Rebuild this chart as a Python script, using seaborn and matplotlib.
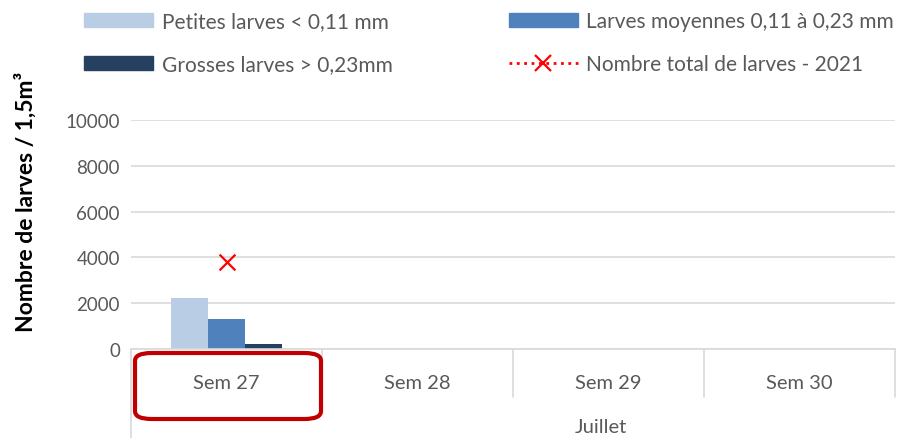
import numpy as np
import pandas as pd
import matplotlib.pyplot as plt
import seaborn as sns
from matplotlib.lines import Line2D
from matplotlib.patches import Patch, FancyBboxPatch

weeks = ['Sem 27', 'Sem 28', 'Sem 29', 'Sem 30']
month = 'Juillet'
petites = [2230, 0, 0, 0]
moyennes = [1320, 0, 0, 0]
grosses = [200, 0, 0, 0]
total = [3820, np.nan, np.nan, np.nan]
series_names = ['Petites larves < 0,11 mm', 'Larves moyennes 0,11 à 0,23 mm',
                'Grosses larves > 0,23mm']
total_name = 'Nombre total de larves - 2021'
colors = ['#B9CDE5', '#4F81BD', '#254061']

sns.set_theme(style='white')
plt.rcParams['font.family'] = ['Lato', 'DejaVu Sans']
text_col = '#595959'

df = pd.DataFrame({
    'week': weeks * 3,
    'value': petites + moyennes + grosses,
    'taille': [n for n in series_names for _ in weeks],
})

fig = plt.figure(figsize=(9.18, 4.39), dpi=100)
ax = fig.add_axes([0.1427, 0.2027, 0.8323, 0.5217])

sns.barplot(data=df, x='week', y='value', hue='taille', order=weeks,
            hue_order=series_names, palette=colors, width=0.58, gap=0,
            saturation=1, legend=False, linewidth=0, ax=ax)
sns.scatterplot(x=weeks, y=total, marker='x', color='#FF0000', s=130,
                linewidth=1.6, ax=ax, zorder=5)

ax.set_ylim(0, 10000)
ax.set_xlim(-0.5, 3.5)
ax.set_yticks(np.arange(0, 10001, 2000))
ax.yaxis.grid(True, color='#D9D9D9', linewidth=1.2)
ax.set_axisbelow(True)
for s in ['top', 'right', 'left']:
    ax.spines[s].set_visible(False)
ax.spines['bottom'].set_color('#D9D9D9')
ax.spines['bottom'].set_linewidth(1.2)
ax.tick_params(axis='y', length=0, labelsize=13.5, labelcolor=text_col, pad=8)
ax.tick_params(axis='x', length=0, labelsize=14.5, labelcolor=text_col, pad=18)
ax.set_xlabel('')
ax.set_ylabel('Nombre de larves / 1,5m³', fontsize=16.5, fontweight='bold',
              color='black')
ax.yaxis.set_label_coords(-0.123, 0.645)

# category separators under the axis
trans = ax.get_xaxis_transform()
for i, xpos in enumerate(np.arange(-0.5, 4.0, 1.0)):
    bottom = -0.4 if i == 0 else -0.21
    ax.plot([xpos, xpos], [0, bottom], transform=trans, color='#D9D9D9',
            lw=1.2, clip_on=False)
ax.text(1.96, -0.34, month, transform=trans, ha='center', va='center',
        fontsize=14.5, color=text_col)

# highlight box around Sem 27
box = FancyBboxPatch((135 / 918, 1 - 420 / 439), 186 / 918, 66 / 439,
                     boxstyle='round,pad=0,rounding_size=0.018',
                     transform=fig.transFigure, fill=False,
                     edgecolor='#C00000', linewidth=3, clip_on=False)
fig.patches.append(box)

handles = [Patch(color=c) for c in colors] + [
    Line2D([0], [0], color='#FF0000', linestyle=':', linewidth=2,
           marker='x', markersize=11, markeredgewidth=1.6)]
labels = series_names + [total_name]
order = [0, 2, 1, 3]
fig.legend([handles[i] for i in order], [labels[i] for i in order],
           ncol=2, loc='upper left', bbox_to_anchor=(74 / 918, 1 - 2 / 439),
           frameon=False, fontsize=15, labelcolor=text_col, borderpad=0,
           handlelength=3.3, handleheight=0.68, columnspacing=5.6,
           labelspacing=1.1, handletextpad=0.4)

fig.savefig('out.png', dpi=100)
